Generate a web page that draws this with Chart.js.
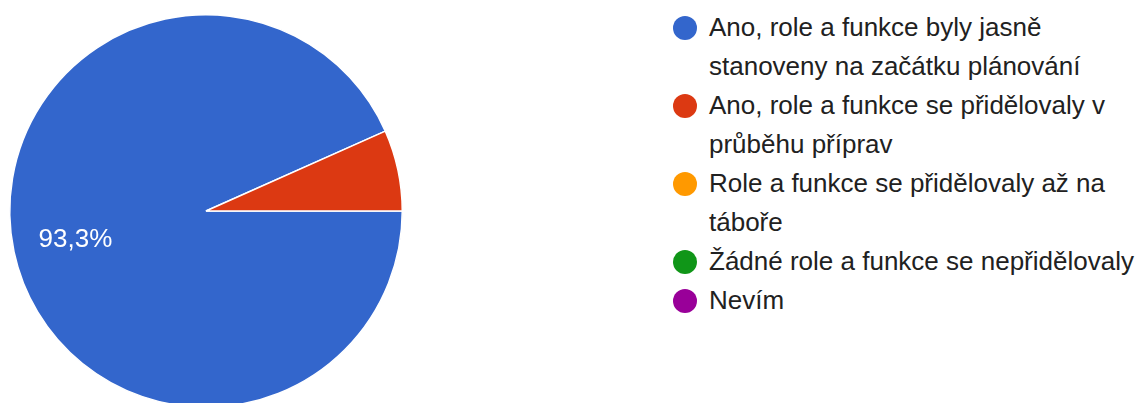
<!DOCTYPE html>
<html lang="cs">
<head>
<meta charset="utf-8">
<title>Role a funkce</title>
<script src="https://cdn.jsdelivr.net/npm/chart.js@4.4.0/dist/chart.umd.min.js"></script>
<style>
  html, body {
    margin: 0;
    padding: 0;
    background: #fff;
    width: 1142px;
    height: 403px;
    overflow: hidden;
  }
  #pieBox {
    position: absolute;
    left: 0;
    top: 0;
    width: 412px;
    height: 422px;
  }
  #legend {
    position: absolute;
    left: 672px;
    top: 8px;
    width: 470px;
    font-family: "Liberation Sans", Arial, sans-serif;
    font-size: 26px;
    line-height: 39px;
    color: #212121;
  }
  .item {
    position: relative;
    padding-left: 37px;
  }
  .dot {
    position: absolute;
    left: 1px;
    top: 7.5px;
    width: 24px;
    height: 24px;
    border-radius: 50%;
  }
</style>
</head>
<body>
<div id="pieBox"><canvas id="pie" width="412" height="422"></canvas></div>
<div id="legend"></div>

<script>
// Data ---------------------------------- { Data }
const labels = [
  "Ano, role a funkce byly jasně stanoveny na začátku plánování",
  "Ano, role a funkce se přidělovaly v průběhu příprav",
  "Role a funkce se přidělovaly až na táboře",
  "Žádné role a funkce se nepřidělovaly",
  "Nevím",
];
const answers = [14, 1, 0, 0, 0];
const colors = ["#3366cc", "#dc3912", "#ff9900", "#109618", "#990099"];

// Legend ---------------------------------- { Legend }
const legendBox = document.getElementById("legend");
labels.forEach((label, i) => {
  legendBox.innerHTML += `
    <div class="item">
      <span class="dot" style="background:${colors[i]}"></span>${label}
    </div>`;
});

// Percent labels inside slices ---------------------------------- { Labels }
const sliceText = {
  id: "sliceText",
  afterDatasetsDraw(chart) {
    const ctx = chart.ctx;
    const values = chart.data.datasets[0].data;
    const total = values.reduce((a, b) => a + b, 0);
    chart.getDatasetMeta(0).data.forEach((arc, i) => {
      const share = values[i] / total;
      // google hides the small ones
      if (share < 0.1) return;
      const mid = (arc.startAngle + arc.endAngle) / 2;
      const r = arc.outerRadius * 0.68;
      const x = arc.x + Math.cos(mid) * r;
      const y = arc.y + Math.sin(mid) * r + 1;
      ctx.save();
      ctx.fillStyle = "#fff";
      ctx.font = '26px "Liberation Sans", Arial, sans-serif';
      ctx.textAlign = "center";
      ctx.textBaseline = "middle";
      ctx.fillText((share * 100).toFixed(1).replace(".", ",") + "%", x, y);
      ctx.restore();
    });
  },
};

// Pie ---------------------------------- { Chart }
const ctx = document.getElementById("pie").getContext("2d");
const myChart = new Chart(ctx, {
  type: "pie",
  data: {
    labels: labels,
    datasets: [
      {
        data: answers,
        backgroundColor: colors,
        borderColor: "#fff",
        borderWidth: 1.5,
      },
    ],
  },
  options: {
    responsive: false,
    animation: false,
    rotation: 90,
    layout: {
      padding: { left: 9, right: 9, top: 14, bottom: 14 },
    },
    plugins: {
      legend: { display: false },
      tooltip: { enabled: false },
    },
  },
  plugins: [sliceText],
});
</script>
</body>
</html>
